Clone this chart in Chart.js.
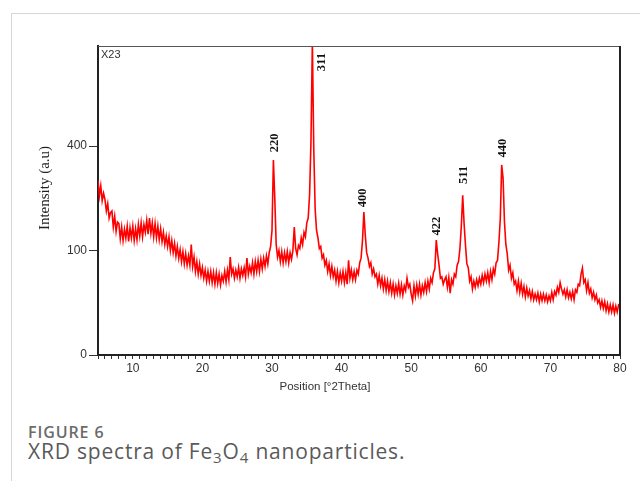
<!DOCTYPE html>
<html>
<head>
<meta charset="utf-8">
<script src="https://cdn.jsdelivr.net/npm/chart.js@4.4.0/dist/chart.umd.min.js"></script>
<style>
  body { margin: 0; background: #fff; }
  #page { position: relative; width: 640px; height: 481px; overflow: hidden; }
  #frame { position: absolute; left: 11px; top: 13px; width: 640px; height: 480px;
           border-top: 1px solid #d6d6d6; border-left: 1px solid #d6d6d6; }
  #chartBox { position: absolute; left: 0; top: 0; width: 640px; height: 400px; }
  .fig-num { position: absolute; left: 28px; top: 421px; line-height: 1; white-space: nowrap;
             font: 600 16px "Open Sans", sans-serif; color: #6b6b6b; letter-spacing: 0.9px; }
  .fig-cap { position: absolute; left: 28px; top: 437px; line-height: 1; white-space: nowrap;
             font: 21px "Open Sans", sans-serif; color: #5a5a5a; letter-spacing: 0.8px; }
  .fig-cap sub { font-size: 0.72em; vertical-align: -0.25em; line-height: 0; }
</style>
</head>
<body>
<div id="page">
  <div id="frame"></div>
  <div id="chartBox"><canvas id="xrdChart" width="640" height="400"></canvas></div>
  <div class="fig-num">FIGURE 6</div>
  <div class="fig-cap">XRD spectra of Fe<sub>3</sub>O<sub>4</sub> nanoparticles.</div>
</div>
<script>
// scan: 5 to 80 deg 2theta, 0.2 deg steps
const scanStart = 5;
const scanStep = 0.2;

// intensity (counts), five points per degree
const intensity = [
  280, 232, 262, 218, 240,   // 5
  222, 190, 210, 172, 186,   // 6
  190, 150, 176, 140, 162,   // 7
  158, 124, 150, 120, 145,   // 8
  125, 152, 118, 148, 126,   // 9
  152, 120, 146, 122, 156,   // 10
  130, 160, 128, 156, 138,   // 11
  166, 134, 172, 136, 160,   // 12
  128, 158, 126, 152, 122,   // 13
  146, 118, 138, 112, 130,   // 14
  108, 128, 100, 120, 96,    // 15
  114, 90, 108, 86, 102,     // 16
  80, 98, 76, 94, 74,        // 17
  90, 74, 112, 72, 88,       // 18
  64, 80, 60, 76, 58,        // 19
  70, 54, 66, 50, 64,        // 20
  50, 64, 48, 62, 46,        // 21
  62, 47, 60, 45, 58,        // 22
  50, 64, 49, 66, 52,        // 23
  88, 60, 68, 54, 66,        // 24
  56, 70, 54, 68, 58,        // 25
  70, 56, 86, 60, 72,        // 26
  62, 78, 60, 80, 64,        // 27
  82, 64, 84, 68, 86,        // 28
  72, 90, 76, 96, 108,       // 29
  142, 348, 225, 112, 88,    // 30
  100, 80, 98, 78, 96,       // 31
  80, 98, 78, 96, 84,        // 32
  100, 150, 104, 92, 110,    // 33
  104, 126, 112, 138, 128,   // 34
  160, 172, 235, 420, 900,   // 35
  390, 195, 142, 126, 104,   // 36
  108, 86, 92, 74, 82,       // 37
  64, 76, 58, 72, 56,        // 38
  66, 50, 64, 48, 62,        // 39
  50, 64, 48, 62, 46,        // 40
  82, 54, 66, 52, 64,        // 41
  52, 66, 60, 78, 86,        // 42
  120, 187, 132, 96, 86,     // 43
  72, 78, 60, 68, 56,        // 44
  60, 46, 58, 44, 54,        // 45
  40, 52, 38, 50, 37,        // 46
  48, 35, 46, 33, 44,        // 47
  35, 47, 34, 45, 33,        // 48
  44, 38, 54, 42, 46,        // 49
  34, 27, 44, 32, 45,        // 50
  34, 46, 33, 44, 36,        // 51
  48, 37, 50, 40, 54,        // 52
  48, 62, 68, 121, 94,       // 53
  74, 54, 56, 46, 52,        // 54
  56, 42, 55, 35, 52,        // 55
  46, 60, 56, 74, 80,        // 56
  104, 152, 234, 158, 110,   // 57
  76, 70, 50, 56, 40,        // 58
  50, 42, 52, 44, 54,        // 59
  46, 58, 48, 60, 50,        // 60
  62, 48, 64, 52, 68,        // 61
  60, 78, 82, 116, 170,      // 62
  331, 286, 162, 112, 94,    // 63
  66, 74, 54, 62, 46,        // 64
  50, 38, 50, 36, 47,        // 65
  34, 43, 31, 41, 32,        // 66
  38, 29, 37, 28, 34,        // 67
  28, 35, 26, 34, 27,        // 68
  34, 27, 33, 26, 32,        // 69
  27, 36, 28, 37, 33,        // 70
  42, 36, 48, 40, 34,        // 71
  39, 31, 39, 30, 36,        // 72
  29, 37, 28, 39, 36,        // 73
  46, 44, 60, 69, 48,        // 74
  52, 38, 48, 35, 40,        // 75
  30, 36, 28, 33, 25,        // 76
  28, 21, 27, 20, 26,        // 77
  18, 24, 17, 23, 17,        // 78
  23, 16, 22, 17, 23,        // 79
  22                         // 80
];

// reflection labels (hkl), their 2theta and the intensity level where the text sits
const peakLabels = ['220', '311', '400', '422', '511', '440'];
const peakLabelAngle = [30.4, 37.2, 43.1, 53.7, 57.5, 63.1];
const peakLabelLevel = [412, 786, 226, 152, 297, 392];

// y axis is square-root scaled
const yTicks = [0, 100, 400];
const yMax = 875;

const points = intensity.map((v, i) => ({ x: scanStart + i * scanStep, y: Math.sqrt(v) }));

const decorations = {
  id: 'decorations',
  afterDraw(chart) {
    const ctx = chart.ctx;
    const area = chart.chartArea;
    const xs = chart.scales.x, ys = chart.scales.y;
    ctx.save();
    // plot frame
    ctx.strokeStyle = '#555';
    ctx.lineWidth = 1;
    ctx.beginPath();
    ctx.moveTo(area.left, area.top + 0.5);
    ctx.lineTo(area.right, area.top + 0.5);
    ctx.stroke();
    ctx.strokeStyle = '#222';
    ctx.lineWidth = 2;
    ctx.beginPath();
    ctx.moveTo(area.right, area.top);
    ctx.lineTo(area.right, area.bottom);
    ctx.stroke();

    // sample tag
    ctx.fillStyle = '#333';
    ctx.font = '11px "Liberation Sans Narrow", "Liberation Sans", Arial';
    ctx.textAlign = 'left';
    ctx.textBaseline = 'middle';
    ctx.fillText('X23', area.left + 3, area.top + 9);

    // hkl labels
    ctx.font = 'bold 12.5px "Liberation Serif", "Times New Roman", serif';
    ctx.fillStyle = '#111';
    ctx.textAlign = 'center';
    peakLabels.forEach((lab, i) => {
      const px = xs.getPixelForValue(peakLabelAngle[i]);
      const py = ys.getPixelForValue(Math.sqrt(peakLabelLevel[i]));
      ctx.save();
      ctx.translate(px, py);
      ctx.rotate(-Math.PI / 2);
      ctx.fillText(lab, 0, 0);
      ctx.restore();
    });

    // axis titles
    ctx.fillStyle = '#222';
    ctx.font = '15px "Liberation Serif", "Times New Roman", serif';
    ctx.save();
    ctx.translate(45, 188);
    ctx.rotate(-Math.PI / 2);
    ctx.fillText('Intensity (a.u)', 0, 0);
    ctx.restore();

    ctx.fillStyle = '#333';
    ctx.font = '11.5px "Liberation Sans", Arial';
    ctx.fillText('Position [°2Theta]', 325, 387);
    ctx.restore();
  }
};

new Chart(document.getElementById('xrdChart'), {
  type: 'line',
  data: {
    datasets: [{
      data: points,
      borderColor: '#ff0000',
      borderWidth: 1.6,
      pointRadius: 0,
      tension: 0,
      fill: false
    }]
  },
  options: {
    responsive: false,
    animation: false,
    layout: { padding: { left: 0, top: 46, right: 20, bottom: 0 } },
    plugins: { legend: { display: false }, tooltip: { enabled: false } },
    scales: {
      x: {
        type: 'linear',
        min: 5,
        max: 80,
        afterFit(scale) { scale.height = 45; },
        ticks: {
          stepSize: 1,
          autoSkip: false,
          maxRotation: 0,
          color: '#333',
          font: { family: '"Liberation Sans", Arial', size: 12 },
          padding: 2,
          callback: v => (v % 10 === 0 ? String(v) : '')
        },
        grid: { drawOnChartArea: false, drawTicks: true, tickLength: 4, color: '#333', lineWidth: 1 },
        border: { display: true, color: '#222', width: 2 }
      },
      y: {
        type: 'linear',
        min: 0,
        max: Math.sqrt(yMax),
        afterFit(scale) { scale.width = 98; },
        afterBuildTicks(scale) { scale.ticks = yTicks.map(t => ({ value: Math.sqrt(t) })); },
        ticks: {
          color: '#333',
          font: { family: '"Liberation Sans", Arial', size: 12 },
          padding: 2,
          callback: v => String(Math.round(v * v))
        },
        grid: { drawOnChartArea: false, drawTicks: true, tickLength: 9, color: '#333', lineWidth: 1 },
        border: { display: true, color: '#222', width: 2 }
      }
    }
  },
  plugins: [decorations]
});
</script>
</body>
</html>
